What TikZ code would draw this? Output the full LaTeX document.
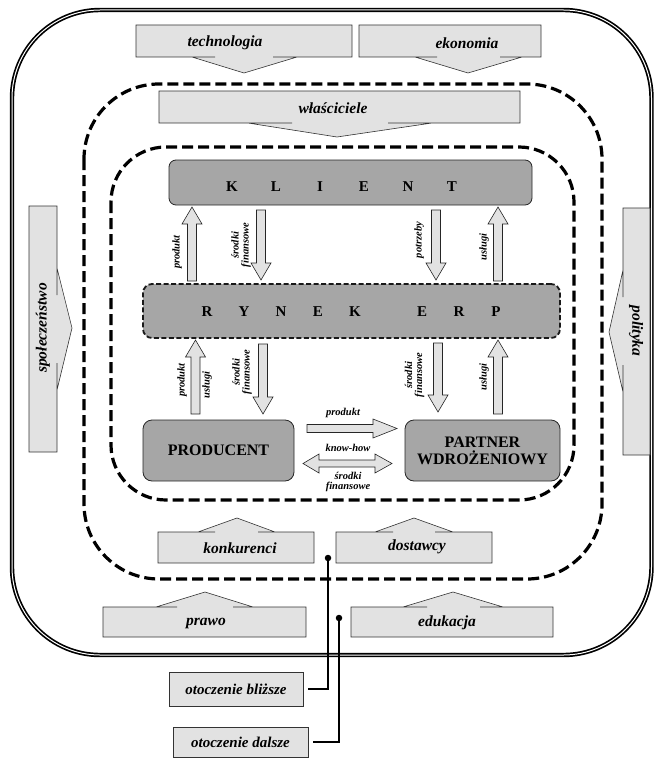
\documentclass[tikz,border=0pt]{standalone}
\usepackage{fontspec}
\setmainfont{Liberation Serif}
\definecolor{lgray}{RGB}{226,226,226}
\definecolor{dgray}{RGB}{166,166,166}
\newcommand\myup[3]{\draw[blockarrow] (#1-4.5,#3) -- (#1-4.5,#2+17) -- (#1-10,#2+17) -- (#1,#2) -- (#1+10,#2+17) -- (#1+4.5,#2+17) -- (#1+4.5,#3) -- cycle;}
\newcommand\mydown[3]{\draw[blockarrow] (#1-4.5,#2) -- (#1+4.5,#2) -- (#1+4.5,#3-17) -- (#1+10,#3-17) -- (#1,#3) -- (#1-10,#3-17) -- (#1-4.5,#3-17) -- cycle;}
\begin{document}
\begin{tikzpicture}[x=1pt,y=-1pt,
  callout/.style={fill=lgray,draw=black!80,line width=0.6pt,line join=miter},
  blockarrow/.style={fill=lgray,draw=black!85,line width=0.6pt,line join=miter},
  biglabel/.style={font=\fontsize{15.5}{17}\selectfont\bfseries\itshape,inner sep=0pt},
  smalllabel/.style={font=\fontsize{10.5}{10}\selectfont\bfseries\itshape,inner sep=0pt,align=center},
  mainbox/.style={fill=dgray,draw=black!85,line width=0.8pt,rounded corners=7pt,inner sep=0pt},
  letters/.style={font=\fontsize{15}{17}\selectfont\bfseries,inner sep=0pt},
  bigdash/.style={line width=3.2pt,dash pattern=on 11pt off 5pt},
  otbox/.style={fill=lgray,draw=black!80,line width=0.6pt,inner sep=0pt,font=\fontsize{15}{17}\selectfont\bfseries\itshape},
  dot/.style={circle,fill=black,inner sep=0pt,minimum size=6.5pt},
  wire/.style={line width=1.7pt}]
\useasboundingbox (0,0) rectangle (653,760);

% frames
\draw[line width=1.7pt,double=white,double distance=1pt,rounded corners=88pt] (12,10) rectangle (651.5,655);
\draw[bigdash,rounded corners=75pt] (84,84) rectangle (602,579);
\draw[bigdash,rounded corners=55pt] (111,147) rectangle (574,500);

% top callouts
\draw[callout] (136,25) -- (352,25) -- (352,57) -- (273,57) -- (297,57) -- (244,73) -- (192,57) -- (215,57) -- (136,57) -- cycle;
\node[biglabel] (tech) at (225,43) {technologia};
\draw[callout] (359,25) -- (541,25) -- (541,57) -- (500,57) -- (522,57) -- (468,73) -- (415,57) -- (437,57) -- (359,57) -- cycle;
\node[biglabel] (ekon) at (467,43) {ekonomia};
\draw[callout] (159,91) -- (520,91) -- (520,123) -- (388,123) -- (432,123) -- (337,137) -- (248,123) -- (292,123) -- (159,123) -- cycle;
\node[biglabel] (wlasc) at (333,108) {właściciele};

% side callouts
\draw[callout] (29,206) -- (57,206) -- (57,295) -- (57,268) -- (72,328) -- (57,390) -- (57,363) -- (57,452) -- (29,452) -- cycle;
\node[biglabel,rotate=90] (spol) at (43,328) {społeczeństwo};
\draw[callout] (623,208) -- (650,208) -- (650,455) -- (623,455) -- (623,365) -- (623,392) -- (609,332) -- (623,270) -- (623,297) -- cycle;
\node[biglabel,rotate=-90] (polit) at (636,331) {polityka};

% bottom callouts
\draw[callout] (158,532) -- (215,532) -- (198,532) -- (237,518) -- (275,532) -- (258,532) -- (314,532) -- (314,563) -- (158,563) -- cycle;
\node[biglabel] (konk) at (240,548) {konkurenci};
\draw[callout] (336,532) -- (393,532) -- (375,532) -- (414,518) -- (453,532) -- (435,532) -- (492,532) -- (492,563) -- (336,563) -- cycle;
\node[biglabel] (dost) at (417,547) {dostawcy};
\draw[callout] (103,607) -- (177,607) -- (156,607) -- (205,592) -- (253,607) -- (233,607) -- (306,607) -- (306,637) -- (103,637) -- cycle;
\node[biglabel] (prawo) at (206,623) {prawo};
\draw[callout] (351,607) -- (427,607) -- (403,607) -- (453,592) -- (503,607) -- (480,607) -- (553,607) -- (553,637) -- (351,637) -- cycle;
\node[biglabel] (eduk) at (447,623) {edukacja};

% main boxes
\node[mainbox,minimum width=363pt,minimum height=45pt] (klient) at (350.5,182.5) {};
\node[letters] (klienttxt) at (342,187) {\makebox[44pt]{K}\makebox[44pt]{L}\makebox[44pt]{I}\makebox[44pt]{E}\makebox[44pt]{N}\makebox[44pt]{T}};
\node[mainbox,draw=black!90,line width=1.8pt,dash pattern=on 5pt off 2.5pt,minimum width=417pt,minimum height=54pt,rounded corners=9pt] (rynek) at (351.5,311) {};
\node[letters] (rynektxt) at (351.5,312) {\makebox[37pt]{R}\makebox[37pt]{Y}\makebox[37pt]{N}\makebox[37pt]{E}\makebox[37pt]{K}\hspace{30pt}\makebox[37pt]{E}\makebox[37pt]{R}\makebox[37pt]{P}};
\node[mainbox,minimum width=151pt,minimum height=61pt,rounded corners=9pt,font=\fontsize{16}{17}\selectfont\bfseries] (prod) at (218.5,450.5) {PRODUCENT};
\node[mainbox,minimum width=155pt,minimum height=61pt,rounded corners=9pt,align=center,font=\fontsize{16}{17}\selectfont\bfseries] (partner) at (482.5,450.5) {PARTNER\\WDROŻENIOWY};

% vertical block arrows
\myup{192}{207}{281}
\mydown{261}{210}{280}
\mydown{436}{210}{280}
\myup{498}{207}{281}
\myup{195.5}{340}{414}
\mydown{263}{344}{414}
\mydown{438}{343}{412}
\myup{498}{340}{414}

% horizontal block arrows
\draw[blockarrow] (307,424.5) -- (373,424.5) -- (373,419) -- (397,428.5) -- (373,438) -- (373,432.5) -- (307,432.5) -- cycle;
\draw[blockarrow] (303,463.5) -- (319,454) -- (319,460) -- (375,460) -- (375,454) -- (392,463.5) -- (375,473) -- (375,467) -- (319,467) -- (319,473) -- cycle;

% small labels
\node[smalllabel,rotate=90] (l1) at (177,252) {produkt};
\node[smalllabel,rotate=90] (l2) at (241,245) {środki\\finansowe};
\node[smalllabel,rotate=90] (l3) at (419,240) {potrzeby};
\node[smalllabel,rotate=90] (l4) at (484,247) {usługi};
\node[smalllabel,rotate=90] (l5) at (182,380) {produkt};
\node[smalllabel,rotate=90] (l6) at (207,385) {usługi};
\node[smalllabel,rotate=90] (l7) at (242,372) {środki\\finansowe};
\node[smalllabel,rotate=90] (l8) at (414.5,375) {środki\\finansowe};
\node[smalllabel,rotate=90] (l9) at (484,377) {usługi};
\node[smalllabel] (l10) at (343,413) {produkt};
\node[smalllabel] (l11) at (348,448) {know-how};
\node[smalllabel] (l12) at (348,482) {środki\\finansowe};

% legend boxes and wires
\node[otbox,minimum width=134pt,minimum height=34pt] (ob) at (236,689) {otoczenie bliższe};
\node[otbox,minimum width=135pt,minimum height=30pt] (od) at (240.5,742) {otoczenie dalsze};
\node[dot] (d1) at (328,558) {};
\node[dot] (d2) at (339,618) {};
\draw[wire] ([xshift=5pt]ob.east) -| (d1.center);
\draw[wire] ([xshift=5pt]od.east) -| (d2.center);
\end{tikzpicture}
\end{document}
